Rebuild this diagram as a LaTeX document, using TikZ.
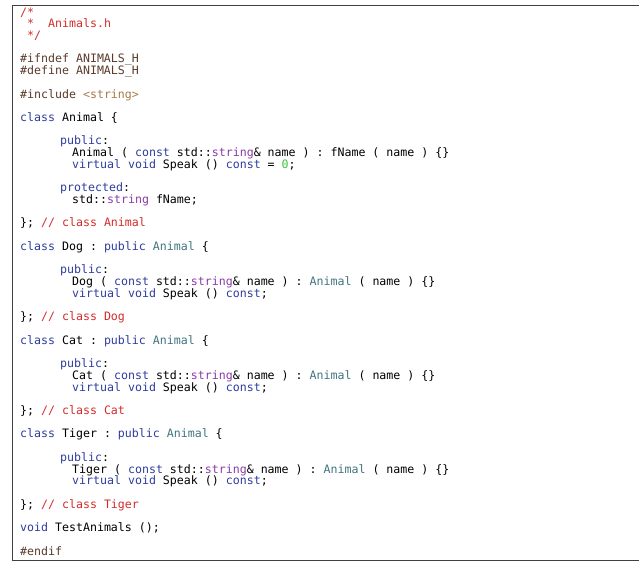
\documentclass[tikz,border=0pt]{standalone}
\usepackage{fontspec}
\setmonofont{DejaVu Sans Mono}
\definecolor{kw}{HTML}{2E3C9E}
\definecolor{cm}{HTML}{D42A2A}
\definecolor{pp}{HTML}{5A3A2A}
\definecolor{st}{HTML}{A87A4A}
\definecolor{ty}{HTML}{8A3AA8}
\definecolor{bc}{HTML}{3F7580}
\definecolor{nm}{HTML}{3CC43C}
\newcommand\K[1]{\textcolor{kw}{#1}}
\newcommand\C[1]{\textcolor{cm}{#1}}
\newcommand\T[1]{\textcolor{ty}{#1}}
\newcommand\B[1]{\textcolor{bc}{#1}}
\tikzset{ln/.style={anchor=base west,inner sep=0pt,font=\ttfamily\fontsize{11.6}{12}\selectfont}}
\begin{document}
\begin{tikzpicture}[x=1pt,y=-1pt]
\useasboundingbox (0,0) rectangle (639,582);
\draw[line width=1pt,black!75] (639,5) coordinate (tr) -- (12,5) coordinate (tl) -- (12,560) coordinate (bl) -- (639,560) coordinate (br);
\def\L#1#2#3{\node[ln] (l#1) at (#2,{16+(#1-1)*11.72}) {#3};}
\L{1}{20}{\C{/*}}
\L{2}{20}{\C{~*~~Animals.h}}
\L{3}{20}{\C{~*/}}
\L{5}{20}{\textcolor{pp}{\#ifndef ANIMALS\_H}}
\L{6}{20}{\textcolor{pp}{\#define ANIMALS\_H}}
\L{8}{20}{\textcolor{pp}{\#include} \textcolor{st}{<string>}}
\L{10}{20}{\K{class} Animal \{}
\L{12}{60}{\K{public}:}
\L{13}{72}{Animal ( \K{const} std::\T{string}\& name ) : fName ( name ) \{\}}
\L{14}{72}{\K{virtual} \K{void} Speak () \K{const} = \textcolor{nm}{0};}
\L{16}{60}{\K{protected}:}
\L{17}{72}{std::\T{string} fName;}
\L{19}{20}{\}; \C{// class Animal}}
\L{21}{20}{\K{class} Dog : \K{public} \B{Animal} \{}
\L{23}{60}{\K{public}:}
\L{24}{72}{Dog ( \K{const} std::\T{string}\& name ) : \B{Animal} ( name ) \{\}}
\L{25}{72}{\K{virtual} \K{void} Speak () \K{const};}
\L{27}{20}{\}; \C{// class Dog}}
\L{29}{20}{\K{class} Cat : \K{public} \B{Animal} \{}
\L{31}{60}{\K{public}:}
\L{32}{72}{Cat ( \K{const} std::\T{string}\& name ) : \B{Animal} ( name ) \{\}}
\L{33}{72}{\K{virtual} \K{void} Speak () \K{const};}
\L{35}{20}{\}; \C{// class Cat}}
\L{37}{20}{\K{class} Tiger : \K{public} \B{Animal} \{}
\L{39}{60}{\K{public}:}
\L{40}{72}{Tiger ( \K{const} std::\T{string}\& name ) : \B{Animal} ( name ) \{\}}
\L{41}{72}{\K{virtual} \K{void} Speak () \K{const};}
\L{43}{20}{\}; \C{// class Tiger}}
\L{45}{20}{\K{void} TestAnimals ();}
\L{47}{20}{\textcolor{pp}{\#endif}}
\end{tikzpicture}
\end{document}
